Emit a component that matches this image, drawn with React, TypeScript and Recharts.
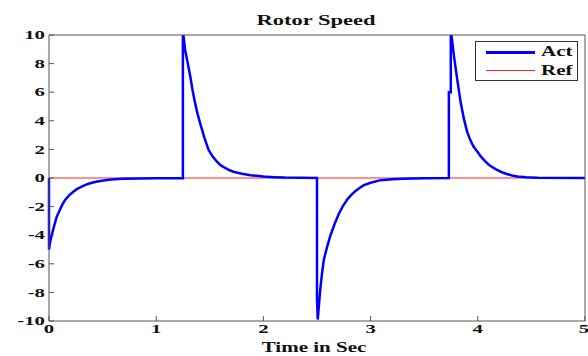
import { LineChart, Line, XAxis, YAxis } from "recharts";

// Act (blue) trace: time (s) and speed
const actTime = [
  0, 0, 0.01, 0.025, 0.05, 0.072, 0.1, 0.125, 0.15, 0.19, 0.227, 0.26, 0.3,
  0.34, 0.383, 0.45, 0.54, 0.61, 0.69, 0.85, 1.0, 1.249,
  1.249, 1.27, 1.295, 1.318, 1.34, 1.364, 1.387, 1.411, 1.45, 1.489, 1.527,
  1.567, 1.6, 1.64, 1.68, 1.72, 1.8, 1.88, 2.0, 2.1, 2.2, 2.35, 2.5,
  2.5, 2.507, 2.52, 2.533, 2.548, 2.564, 2.595, 2.626, 2.665, 2.704, 2.743,
  2.782, 2.82, 2.86, 2.9, 2.938, 3.0, 3.093, 3.2, 3.3, 3.5, 3.73,
  3.73, 3.748, 3.748, 3.765, 3.78, 3.81, 3.84, 3.87, 3.9, 3.93, 3.96, 4.0,
  4.03, 4.065, 4.1, 4.14, 4.18, 4.22, 4.27, 4.32, 4.37, 4.45, 4.56, 5.0,
];
const actSpeed = [
  0, -5.0, -4.5, -4.0, -3.3, -2.7, -2.25, -1.85, -1.54, -1.2, -0.96, -0.78,
  -0.62, -0.48, -0.37, -0.25, -0.14, -0.09, -0.05, -0.03, -0.02, -0.01,
  10.3, 8.95, 8.0, 7.1, 6.1, 5.2, 4.45, 3.8, 2.8, 1.96, 1.5, 1.14, 0.9, 0.72,
  0.56, 0.44, 0.3, 0.2, 0.1, 0.06, 0.03, 0.01, 0,
  -8.5, -9.9, -8.7, -7.6, -6.6, -5.7, -4.8, -4.0, -3.2, -2.5, -1.95, -1.5,
  -1.18, -0.9, -0.68, -0.5, -0.33, -0.15, -0.08, -0.05, -0.02, 0,
  6.0, 6.0, 10.4, 9.3, 8.4, 6.8, 5.3, 4.15, 3.24, 2.65, 2.2, 1.8, 1.49, 1.2,
  0.95, 0.74, 0.56, 0.42, 0.28, 0.18, 0.1, 0.05, 0.02, 0,
];

// Ref (red) trace
const refTime = [0, 5];
const refSpeed = [0, 0];

const xTicks = [0, 1, 2, 3, 4, 5];
const yTicks = [-10, -8, -6, -4, -2, 0, 2, 4, 6, 8, 10];

const actData = actTime.map((t, i) => ({ t, v: actSpeed[i] }));
const refData = refTime.map((t, i) => ({ t, v: refSpeed[i] }));

const FONT = '"Liberation Serif", "Times New Roman", serif';
const AXIS = "#555";

function YTick({ x, y, payload }: any) {
  return (
    <text
      transform={`translate(${x},${y}) scale(1.6,1)`}
      textAnchor="end"
      dominantBaseline="central"
      fontFamily={FONT}
      fontWeight="bold"
      fontSize={13}
      fill="#111"
    >
      {payload.value}
    </text>
  );
}

function XTick({ x, y, payload }: any) {
  return (
    <text
      transform={`translate(${x},${y}) scale(1.6,1)`}
      textAnchor="middle"
      dy="0.71em"
      fontFamily={FONT}
      fontWeight="bold"
      fontSize={13}
      fill="#111"
    >
      {payload.value}
    </text>
  );
}

const label = {
  position: "absolute" as const,
  fontFamily: FONT,
  fontWeight: "bold" as const,
  color: "#111",
  whiteSpace: "nowrap" as const,
  textAlign: "center" as const,
  transform: "scaleX(1.5)",
};

const legendItems = [
  { name: "Act", color: "#0000ff", w: 3, y: 9 },
  { name: "Ref", color: "#ff2020", w: 1, y: 28 },
];

export default function App() {
  return (
    <div style={{ position: "relative", width: 588, height: 356, background: "#fff" }}>
      <style>{`body{margin:0}`}</style>
      <LineChart
        width={588}
        height={356}
        margin={{ top: 34, right: 0, bottom: 0, left: 0 }}
      >
        <XAxis
          dataKey="t"
          type="number"
          domain={[0, 5]}
          ticks={xTicks}
          height={35}
          stroke={AXIS}
          tickSize={-5}
          tickMargin={8}
          tick={<XTick />}
        />
        <XAxis
          xAxisId="top"
          dataKey="t"
          type="number"
          orientation="top"
          domain={[0, 5]}
          ticks={xTicks}
          height={1}
          stroke={AXIS}
          tickSize={-5}
          tick={false}
        />
        <YAxis
          type="number"
          domain={[-10, 10]}
          ticks={yTicks}
          allowDataOverflow
          width={49}
          stroke={AXIS}
          tickSize={-5}
          tickMargin={9}
          tick={<YTick />}
        />
        <YAxis
          yAxisId="right"
          type="number"
          orientation="right"
          domain={[-10, 10]}
          ticks={yTicks}
          width={3}
          stroke={AXIS}
          tickSize={-5}
          tick={false}
        />
        <Line
          data={refData}
          xAxisId="top"
          yAxisId="right"
          dataKey="v"
          type="linear"
          stroke="#ff2020"
          strokeWidth={1}
          dot={false}
          isAnimationActive={false}
        />
        <Line
          data={actData}
          dataKey="v"
          type="linear"
          stroke="#0000ff"
          strokeWidth={2.5}
          dot={false}
          isAnimationActive={false}
        />
      </LineChart>

      <div style={{ ...label, left: 216, top: 11, width: 200, fontSize: 15, lineHeight: "18px" }}>
        Rotor Speed
      </div>
      <div style={{ ...label, left: 214, top: 339, width: 200, fontSize: 14, lineHeight: "17px" }}>
        Time in Sec
      </div>

      <div
        style={{
          position: "absolute",
          left: 475,
          top: 41,
          width: 101,
          height: 38,
          border: "1px solid #333",
          background: "#fff",
        }}
      >
        {legendItems.map((s) => (
          <div key={s.name}>
            <div
              style={{
                position: "absolute",
                left: 10,
                top: s.y,
                width: 49,
                height: s.w,
                background: s.color,
              }}
            />
            <div
              style={{
                ...label,
                left: 65,
                top: s.y - 8,
                lineHeight: "18px",
                fontSize: 14,
                textAlign: "left",
                transformOrigin: "left center",
              }}
            >
              {s.name}
            </div>
          </div>
        ))}
      </div>
    </div>
  );
}
